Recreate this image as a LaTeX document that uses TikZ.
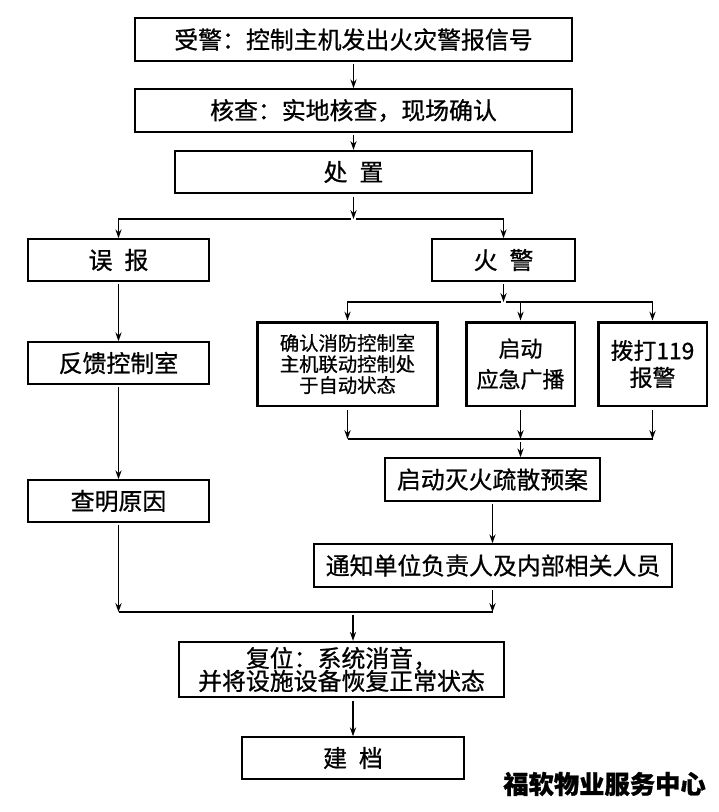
\documentclass[tikz,border=0pt]{standalone}
\usepackage{fontspec}
\setmainfont{Noto Sans CJK SC}[RawFeature={embolden=0.8}]
\usetikzlibrary{arrows.meta}

\tikzset{
  box/.style={draw, line width=0.9pt, inner sep=0pt, align=center, font=\fontsize{13.6pt}{16pt}\selectfont},
  thickbox/.style={box, line width=1.7pt},
  link/.style={line width=0.9pt},
  arr/.style={link, shorten <=1.5pt, -{Stealth[length=5pt,width=3.5pt]}}
}

\begin{document}
\begin{tikzpicture}[x=0.02cm, y=-0.02cm]
    \useasboundingbox (0,0) rectangle (719,812);
    \node[box, minimum width=8.74cm, minimum height=0.86cm] (n1) at (353.5,39.5) {受警：控制主机发出火灾警报信号};
    \node[box, minimum width=8.74cm, minimum height=0.86cm] (n2) at (353.5,110.5) {核查：实地核查，现场确认};
    \node[box, line width=1.3pt, minimum width=7.14cm, minimum height=0.84cm] (n3) at (353.5,172) {处\enspace 置};
    \node[box, minimum width=3.62cm, minimum height=0.84cm] (wb) at (118.5,260) {误\enspace 报};
    \node[box, minimum width=2.86cm, minimum height=0.84cm] (hj) at (503.5,260) {火\enspace 警};
    \node[thickbox, minimum width=3.62cm, minimum height=1.68cm, font=\fontsize{11pt}{12pt}\selectfont] (a1) at (347.5,364) {确认消防控制室\\主机联动控制处\\于自动状态};
    \node[thickbox, minimum width=2.18cm, minimum height=1.68cm, font=\fontsize{12.5pt}{17.5pt}\selectfont] (a2) at (520.5,364) {启动\\应急广播};
    \node[thickbox, minimum width=2.18cm, minimum height=1.68cm, font=\fontsize{13pt}{15.3pt}\selectfont] (a3) at (652.5,364) {拨打119\\报警};
    \node[box, minimum width=3.62cm, minimum height=0.84cm] (fk) at (118.5,363) {反馈控制室};
    \node[box, minimum width=3.62cm, minimum height=0.84cm] (cm) at (118.5,501) {查明原因};
    \node[box, minimum width=4.3cm, minimum height=0.86cm] (qd) at (492.5,479.5) {启动灭火疏散预案};
    \node[box, minimum width=7.16cm, minimum height=0.86cm] (tz) at (493,565.5) {通知单位负责人及内部相关人员};
    \node[box, line width=1.4pt, minimum width=6.5cm, minimum height=1.1cm, font=\fontsize{13.6pt}{13pt}\selectfont] (fw) at (341.5,669.5) {复位：系统消音，\\并将设施设备恢复正常状态};
    \node[box, minimum width=4.44cm, minimum height=0.84cm] (jd) at (353,758) {建\enspace 档};
    \node[font=\bfseries\fontsize{14.4pt}{16pt}\selectfont] (org) at (604.5,784) {福软物业服务中心};

    \coordinate (j1) at (353.5,219);
    \coordinate (j2) at (503.5,302);
    \coordinate (j3) at (520.5,439);
    \coordinate (j4) at (492.5,612);
    \coordinate (j5) at (353,612);

    \draw[arr] (n1.south) -- (n2.north);
    \draw[arr] (n2.south) -- (n3.north);
    \draw[arr] (n3.south) -- (j1);
    \draw[arr] (j1) -| (wb.north);
    \draw[arr] (j1) -| (hj.north);
    \draw[arr] (hj.south) -- (j2);
    \foreach \b in {a1,a2,a3}
        \draw[arr] (j2) -| (\b.north);
    \foreach \b in {a1,a2,a3}
        \draw[arr] (\b.south) -- (\b.south |- j3);
    \draw[link] (a1.south |- j3) -- (a3.south |- j3);
    \draw[arr] (j3) -- (j3 |- qd.north);
    \draw[arr] (qd.south) -- (qd.south |- tz.north);
    \draw[arr] (tz.south -| j4) -- (j4);
    \draw[arr] (wb.south) -- (fk.north);
    \draw[arr] (fk.south) -- (cm.north);
    \draw[arr] (cm.south) -- (cm.south |- j4);
    \draw[link] (cm.south |- j4) -- (j4);
    \draw[arr] (j5) -- (j5 |- fw.north);
    \draw[arr] (fw.south -| j5) -- (jd.north);
\end{tikzpicture}
\end{document}
